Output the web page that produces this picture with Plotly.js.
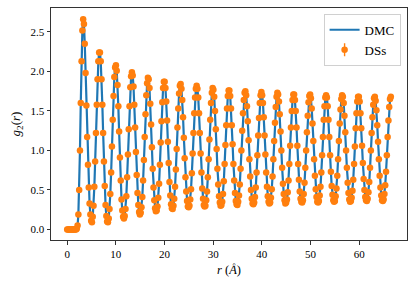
<!DOCTYPE html>
<html>
<head>
<meta charset="utf-8">
<script src="https://cdn.plot.ly/plotly-3.0.1.min.js"></script>
<style>html,body{margin:0;padding:0;background:#fff;}#plot{width:415px;height:288px;}</style>
</head>
<body>
<div id="plot"></div>
<script>
// Uniform radial grid: r = rStart + i*rStep, up to 66.5 Å
const rStart = 0.0;
const rStep = 0.1642;

// g2(r) values (DSs points; the DMC curve runs through them)
const gDSs = [
  0,0,0,0,0,0,0,0,0,0,0,0,0.01,0.05,0.19,0.50,1.00,1.60,2.13,2.52,2.66,
  2.60,2.35,1.98,1.57,1.17,0.82,0.53,0.33,0.19,0.11,0.09,0.16,0.30,0.54,0.86,1.22,1.58,1.90,2.13,2.24,
  2.24,2.13,1.90,1.58,1.22,0.86,0.55,0.31,0.17,0.10,0.09,0.14,0.26,0.45,0.72,1.05,1.39,1.69,1.93,2.05,
  2.08,2.01,1.83,1.56,1.24,0.91,0.62,0.38,0.24,0.16,0.14,0.17,0.26,0.42,0.66,0.95,1.27,1.56,1.80,1.94,1.99,
  1.95,1.81,1.58,1.29,0.98,0.69,0.46,0.31,0.22,0.19,0.21,0.28,0.41,0.62,0.88,1.17,1.46,1.70,1.85,1.92,
  1.90,1.79,1.59,1.33,1.04,0.77,0.53,0.37,0.27,0.23,0.24,0.29,0.40,0.58,0.82,1.10,1.37,1.61,1.79,1.87,
  1.87,1.79,1.62,1.38,1.11,0.84,0.60,0.43,0.32,0.27,0.26,0.30,0.39,0.54,0.76,1.02,1.29,1.53,1.72,1.82,
  1.84,1.78,1.64,1.42,1.16,0.90,0.66,0.48,0.36,0.29,0.28,0.30,0.38,0.51,0.71,0.96,1.22,1.47,1.67,1.78,1.82,
  1.78,1.67,1.47,1.22,0.96,0.72,0.52,0.39,0.31,0.29,0.30,0.37,0.48,0.66,0.89,1.14,1.39,1.60,1.73,1.79,
  1.77,1.68,1.50,1.27,1.02,0.77,0.57,0.42,0.34,0.30,0.31,0.35,0.45,0.61,0.83,1.07,1.32,1.53,1.69,1.76,
  1.76,1.69,1.53,1.32,1.08,0.83,0.62,0.46,0.36,0.32,0.31,0.35,0.43,0.57,0.77,1.00,1.25,1.47,1.64,1.73,
  1.75,1.70,1.56,1.37,1.13,0.89,0.67,0.50,0.39,0.33,0.32,0.34,0.41,0.53,0.72,0.94,1.19,1.41,1.60,1.70,1.74,
  1.70,1.60,1.42,1.19,0.95,0.72,0.54,0.42,0.35,0.33,0.34,0.40,0.51,0.67,0.89,1.12,1.35,1.55,1.68,1.73,
  1.71,1.62,1.46,1.24,1.00,0.78,0.58,0.45,0.37,0.33,0.34,0.38,0.47,0.62,0.83,1.06,1.29,1.50,1.64,1.71,
  1.71,1.64,1.50,1.29,1.06,0.83,0.63,0.48,0.39,0.35,0.34,0.37,0.45,0.59,0.78,1.00,1.23,1.44,1.61,1.69,
  1.71,1.66,1.53,1.34,1.12,0.89,0.68,0.51,0.41,0.35,0.34,0.36,0.43,0.54,0.72,0.94,1.17,1.39,1.56,1.67,1.70,
  1.67,1.56,1.39,1.17,0.94,0.73,0.55,0.44,0.37,0.35,0.36,0.42,0.52,0.68,0.89,1.12,1.34,1.52,1.65,1.70,
  1.68,1.60,1.44,1.23,1.00,0.78,0.59,0.46,0.38,0.35,0.36,0.40,0.49,0.63,0.83,1.05,1.28,1.47,1.62,1.68,
  1.68,1.62,1.47,1.28,1.06,0.84,0.64,0.50,0.41,0.37,0.36,0.39,0.47,0.60,0.78,1.00,1.22,1.42,1.58,1.66,
  1.68,1.63,1.51,1.32,1.11,0.89,0.68,0.53,0.43,0.37,0.36,0.38,0.45,0.56,0.73,0.94,1.17,1.38,1.55,1.65,1.68
];
const gDMC = gDSs.slice();
const errDSs = 0.02;

const seriesNames = ["DMC", "DSs"];
const xTicks = [0, 10, 20, 30, 40, 50, 60];
const yTicks = [0.0, 0.5, 1.0, 1.5, 2.0, 2.5];

const r = gDSs.map((_, i) => rStart + i * rStep);

const font = "Liberation Serif, Times New Roman, serif";
const orange = "#ff7f0e", blue = "#1f77b4";

const traces = [
  {
    x: r, y: gDMC, name: seriesNames[0], type: "scatter", mode: "lines",
    line: {color: blue, width: 2.2}
  },
  {
    x: r, y: gDSs, name: seriesNames[1], type: "scatter", mode: "markers",
    marker: {color: orange, size: 6.5, line: {width: 0}},
    error_y: {type: "constant", value: errDSs, color: orange, thickness: 1, width: 0}
  }
];

const layout = {
  width: 415, height: 288,
  margin: {l: 51, r: 8, t: 8, b: 48},
  paper_bgcolor: "#fff", plot_bgcolor: "#fff",
  font: {family: font, size: 11, color: "#000"},
  showlegend: true,
  legend: {
    x: 0.982, y: 0.975, xanchor: "right", yanchor: "top",
    bgcolor: "rgba(255,255,255,0.85)", bordercolor: "#d0d0d0", borderwidth: 1,
    font: {family: font, size: 13, color: "#000"},
    itemwidth: 30, tracegroupgap: 0
  },
  xaxis: {
    range: [-3.325, 69.825],
    tickvals: xTicks, ticktext: xTicks.map(String),
    ticks: "outside", ticklen: 3.5, tickwidth: 0.8, tickcolor: "#000",
    showgrid: false, zeroline: false,
    showline: true, mirror: true, linecolor: "#333", linewidth: 1,
    tickfont: {family: font, size: 11},
    title: {text: "<i>r</i> (<i>Å</i>)", font: {family: font, size: 12.5}, standoff: 6}
  },
  yaxis: {
    range: [-0.1335, 2.8035],
    tickvals: yTicks, ticktext: yTicks.map(v => v.toFixed(1)),
    ticks: "outside", ticklen: 3.5, tickwidth: 0.8, tickcolor: "#000",
    showgrid: false, zeroline: false,
    showline: true, mirror: true, linecolor: "#333", linewidth: 1,
    tickfont: {family: font, size: 11},
    title: {text: "<i>g</i><sub>2</sub>(<i>r</i>)", font: {family: font, size: 13}, standoff: 6}
  }
};

const gd = document.getElementById("plot");
Plotly.newPlot(gd, traces, layout, {staticPlot: true, displayModeBar: false}).then(() => {
  // add the error-bar stroke to the DSs legend symbol (matplotlib errorbar legend look)
  const items = gd.querySelectorAll(".legend .traces");
  if (items.length < 2) return;
  const pt = items[1].querySelector(".legendpoints path");
  if (!pt) return;
  let tx = 0, ty = 0;
  const m = /translate\(\s*([-\d.]+)[\s,]+([-\d.]+)\s*\)/.exec(pt.getAttribute("transform") || "");
  if (m) { tx = parseFloat(m[1]); ty = parseFloat(m[2]); }
  const bb = pt.getBBox();
  const cx = tx + bb.x + bb.width / 2, cy = ty + bb.y + bb.height / 2;
  const ln = document.createElementNS("http://www.w3.org/2000/svg", "line");
  ln.setAttribute("x1", cx); ln.setAttribute("x2", cx);
  ln.setAttribute("y1", cy - 6.5); ln.setAttribute("y2", cy + 6.5);
  ln.setAttribute("style", "stroke:" + orange + ";stroke-width:1.4px");
  pt.parentNode.insertBefore(ln, pt);
});
</script>
</body>
</html>
